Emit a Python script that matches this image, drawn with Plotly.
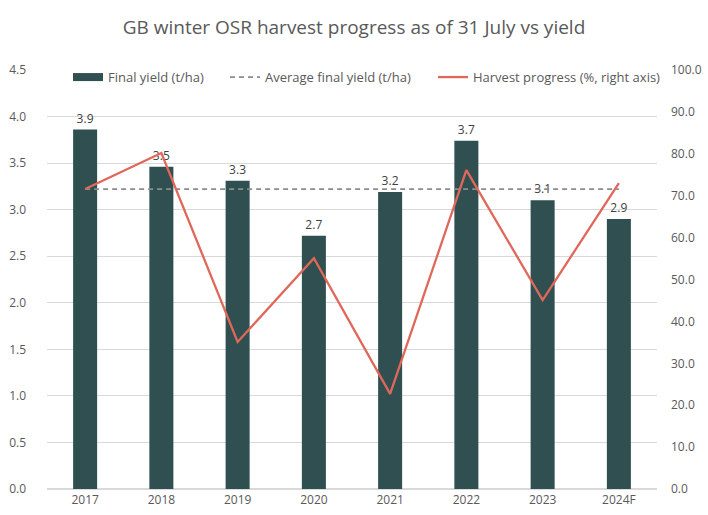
import plotly.graph_objects as go

# Season categories
years = ["2017", "2018", "2019", "2020", "2021", "2022", "2023", "2024F"]

# Final yield, t/ha (left axis)
final_yield = [3.86, 3.46, 3.31, 2.72, 3.19, 3.74, 3.10, 2.90]

# Average final yield across the period, t/ha
avg_yield = [3.22] * len(years)

# Harvest progress as of 31 July, % (right axis)
harvest_progress = [71.6, 80.2, 35.1, 55.1, 22.7, 76.1, 45.1, 73.0]

FONT = "Open Sans"
GREY = "#595959"
BAR_COLOR = "#2F4F50"
LINE_COLOR = "#E0685A"
AVG_COLOR = "#8C8C8C"

fig = go.Figure()

fig.add_trace(go.Bar(
    x=years, y=final_yield,
    name="Final yield (t/ha)",
    marker=dict(color=BAR_COLOR, line=dict(width=0)),
    texttemplate="%{y:.1f}", textposition="outside",
    textfont=dict(size=12, color="#404040", family=FONT),
    cliponaxis=False,
    showlegend=False,
))

# Legend-only entry giving the bar series a wide rectangular swatch
fig.add_trace(go.Scatter(
    x=[None], y=[None],
    name="Final yield (t/ha)",
    mode="lines",
    line=dict(color=BAR_COLOR, width=8),
    legend="legend",
))

fig.add_trace(go.Scatter(
    x=years, y=avg_yield,
    name="Average final yield (t/ha)",
    mode="lines",
    line=dict(color=AVG_COLOR, width=1.8, dash="5px,4px"),
    legend="legend2",
))

fig.add_trace(go.Scatter(
    x=years, y=harvest_progress,
    name="Harvest progress (%, right axis)",
    mode="lines",
    line=dict(color=LINE_COLOR, width=2.3),
    yaxis="y2",
    legend="legend3",
))

legend_common = dict(
    orientation="h", xanchor="left", y=0.983, yanchor="middle",
    bgcolor="rgba(255,255,255,0)", font=dict(size=13, color=GREY, family=FONT),
    itemwidth=30, borderwidth=0,
)

fig.update_layout(
    width=708, height=515,
    margin=dict(l=47, r=51, t=70, b=26),
    paper_bgcolor="white", plot_bgcolor="white",
    font=dict(family=FONT, size=12, color=GREY),
    title=dict(
        text="GB winter OSR harvest progress as of 31 July vs yield",
        x=0.5, xanchor="center", y=0.946, yanchor="middle",
        font=dict(size=19, color=GREY, family=FONT),
    ),
    bargap=0.685,
    showlegend=True,
    legend=dict(x=(68 - 47) / 610, **legend_common),
    legend2=dict(x=(225 - 47) / 610, **legend_common),
    legend3=dict(x=(433 - 47) / 610, **legend_common),
    xaxis=dict(
        showgrid=False, showline=False, ticks="", automargin=False,
        ticklabelstandoff=2,
        tickfont=dict(size=12, color=GREY),
    ),
    yaxis=dict(
        range=[0, 4.5], dtick=0.5, tickformat=".1f", automargin=False,
        showgrid=True, gridcolor="#D9D9D9", gridwidth=1,
        zeroline=True, zerolinecolor="#D9D9D9",
        showline=False, ticks="", ticklabelstandoff=20,
        tickfont=dict(size=12, color=GREY),
    ),
    yaxis2=dict(
        range=[0, 100], dtick=10, tickformat=".1f", automargin=False,
        overlaying="y", side="right",
        showgrid=False, zeroline=False, showline=False, ticks="",
        ticklabelstandoff=13,
        tickfont=dict(size=12, color=GREY),
    ),
)

fig.write_html("out.html")
